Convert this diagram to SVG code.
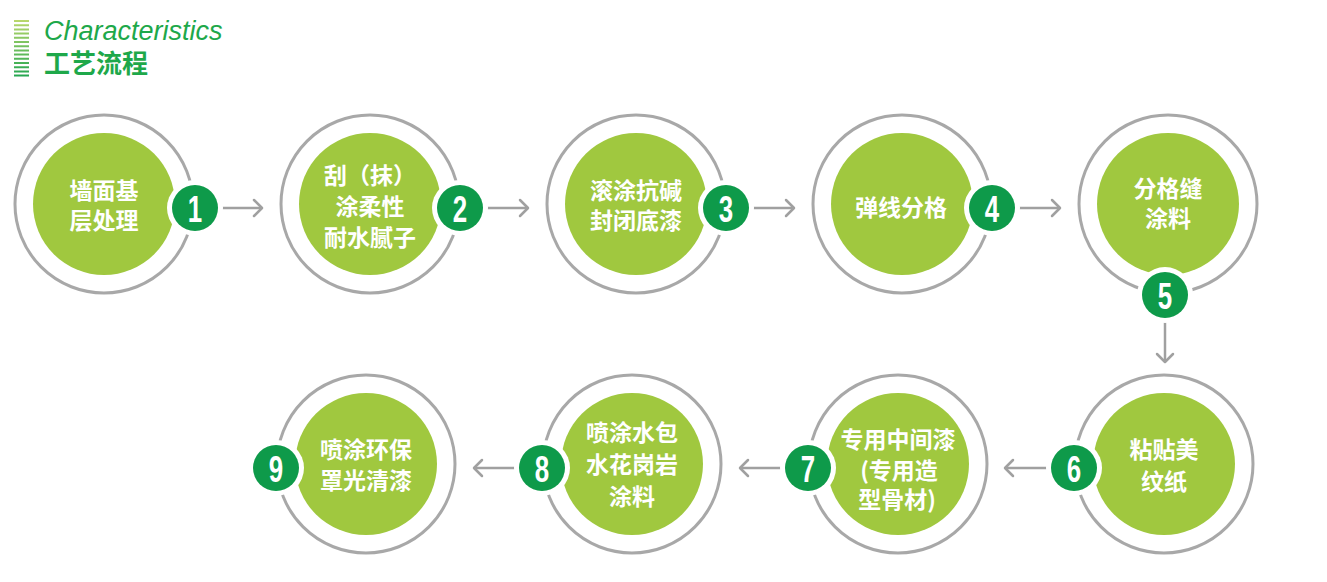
<svg xmlns="http://www.w3.org/2000/svg" width="1327" height="582" viewBox="0 0 1327 582">
  <style>
    .ring{fill:none;stroke:#a8a8a8;stroke-width:3}
    .core{fill:#a0c83f}
    .gap{fill:#ffffff}
    .badge{fill:#0e9a4a}
    .lbl{font-family:"Noto Sans CJK SC","Noto Sans",sans-serif;font-weight:700;font-size:23px;fill:#ffffff;text-anchor:middle}
    .num{font-family:"Liberation Sans",Arial,sans-serif;font-weight:700;font-size:37px;fill:#ffffff;text-anchor:middle}
    .conn{fill:none;stroke:#a0a0a0;stroke-width:2.5}
    .head{fill:none;stroke:#a0a0a0;stroke-width:2.5;stroke-linecap:round;stroke-linejoin:round}
  </style>
  <defs>
    <linearGradient id="stripeGrad" gradientUnits="userSpaceOnUse" x1="0" y1="19" x2="0" y2="77">
      <stop offset="0" stop-color="#bcd86c"/>
      <stop offset="1" stop-color="#22a650"/>
    </linearGradient>
    <marker id="arr" markerUnits="userSpaceOnUse" markerWidth="14" markerHeight="20" refX="11" refY="10" orient="auto" viewBox="0 0 14 20">
      <path d="M3 2 L11 10 L3 18" class="head"/>
    </marker>
  </defs>
  <rect width="1327" height="582" fill="#ffffff"/>

  <g id="header">
    <path d="M14 21H29M14 25.2H29M14 29.4H29M14 33.6H29M14 37.8H29M14 42H29M14 46.2H29M14 50.4H29M14 54.6H29M14 58.8H29M14 63H29M14 67.2H29M14 71.4H29M14 75.6H29" stroke="url(#stripeGrad)" stroke-width="2" fill="none"/>
    <text x="44" y="40" font-family="Liberation Sans, Arial, sans-serif" font-style="italic" font-size="27" fill="#1ea84a">Characteristics</text>
    <text x="44" y="73" font-family="Noto Sans CJK SC, Noto Sans, sans-serif" font-weight="700" font-size="26" fill="#1ea84a">工艺流程</text>
  </g>

  <g id="connectors">
    <path class="conn" d="M218 208 H262" marker-end="url(#arr)"/>
    <path class="conn" d="M483 208 H528" marker-end="url(#arr)"/>
    <path class="conn" d="M749 208 H794" marker-end="url(#arr)"/>
    <path class="conn" d="M1015 208 H1060" marker-end="url(#arr)"/>
    <path class="conn" d="M1165 318 V362" marker-end="url(#arr)"/>
    <path class="conn" d="M1050 468 H1005" marker-end="url(#arr)"/>
    <path class="conn" d="M785 468 H740" marker-end="url(#arr)"/>
    <path class="conn" d="M519 468 H474" marker-end="url(#arr)"/>
  </g>

  <g id="node1">
    <circle class="ring" cx="104" cy="204" r="89"/>
    <circle class="core" cx="104" cy="204" r="71"/>
    <text class="lbl" x="104" y="199">墙面基<tspan x="104" dy="30">层处理</tspan></text>
    <circle class="gap" cx="195" cy="208" r="28"/>
    <circle class="badge" cx="195" cy="208" r="23"/>
    <text class="num" transform="translate(195 221.5) scale(0.7 1)">1</text>
  </g>

  <g id="node2">
    <circle class="ring" cx="370" cy="204" r="89"/>
    <circle class="core" cx="370" cy="204" r="71"/>
    <text class="lbl" x="370" y="184">刮（抹）<tspan x="370" dy="31">涂柔性</tspan><tspan x="370" dy="31">耐水腻子</tspan></text>
    <circle class="gap" cx="460" cy="208" r="28"/>
    <circle class="badge" cx="460" cy="208" r="23"/>
    <text class="num" transform="translate(460 221.5) scale(0.7 1)">2</text>
  </g>

  <g id="node3">
    <circle class="ring" cx="636" cy="204" r="89"/>
    <circle class="core" cx="636" cy="204" r="71"/>
    <text class="lbl" x="636" y="199">滚涂抗碱<tspan x="636" dy="30">封闭底漆</tspan></text>
    <circle class="gap" cx="726" cy="208" r="28"/>
    <circle class="badge" cx="726" cy="208" r="23"/>
    <text class="num" transform="translate(726 221.5) scale(0.7 1)">3</text>
  </g>

  <g id="node4">
    <circle class="ring" cx="902" cy="204" r="89"/>
    <circle class="core" cx="902" cy="204" r="71"/>
    <text class="lbl" x="901" y="216">弹线分格</text>
    <circle class="gap" cx="992" cy="208" r="28"/>
    <circle class="badge" cx="992" cy="208" r="23"/>
    <text class="num" transform="translate(992 221.5) scale(0.7 1)">4</text>
  </g>

  <g id="node5">
    <circle class="ring" cx="1168" cy="204" r="89"/>
    <circle class="core" cx="1168" cy="204" r="71"/>
    <text class="lbl" x="1168" y="197">分格缝<tspan x="1168" dy="30">涂料</tspan></text>
    <circle class="gap" cx="1165" cy="295" r="28"/>
    <circle class="badge" cx="1165" cy="295" r="23"/>
    <text class="num" transform="translate(1165 308.5) scale(0.7 1)">5</text>
  </g>

  <g id="node6">
    <circle class="ring" cx="1164" cy="464" r="89"/>
    <circle class="core" cx="1164" cy="464" r="71"/>
    <text class="lbl" x="1164" y="458">粘贴美<tspan x="1164" dy="32">纹纸</tspan></text>
    <circle class="gap" cx="1074" cy="468" r="28"/>
    <circle class="badge" cx="1074" cy="468" r="23"/>
    <text class="num" transform="translate(1074 481.5) scale(0.7 1)">6</text>
  </g>

  <g id="node7">
    <circle class="ring" cx="898" cy="464" r="89"/>
    <circle class="core" cx="898" cy="464" r="71"/>
    <text class="lbl" x="898" y="448">专用中间漆<tspan x="899" dy="31">(专用造</tspan><tspan x="897" dy="29">型骨材)</tspan></text>
    <circle class="gap" cx="808" cy="468" r="28"/>
    <circle class="badge" cx="808" cy="468" r="23"/>
    <text class="num" transform="translate(808 481.5) scale(0.7 1)">7</text>
  </g>

  <g id="node8">
    <circle class="ring" cx="632" cy="464" r="89"/>
    <circle class="core" cx="632" cy="464" r="71"/>
    <text class="lbl" x="632" y="441">喷涂水包<tspan x="632" dy="32">水花岗岩</tspan><tspan x="632" dy="32">涂料</tspan></text>
    <circle class="gap" cx="542" cy="468" r="28"/>
    <circle class="badge" cx="542" cy="468" r="23"/>
    <text class="num" transform="translate(542 481.5) scale(0.7 1)">8</text>
  </g>

  <g id="node9">
    <circle class="ring" cx="366" cy="464" r="89"/>
    <circle class="core" cx="366" cy="464" r="71"/>
    <text class="lbl" x="366" y="458">喷涂环保<tspan x="366" dy="31">罩光清漆</tspan></text>
    <circle class="gap" cx="276" cy="468" r="28"/>
    <circle class="badge" cx="276" cy="468" r="23"/>
    <text class="num" transform="translate(276 481.5) scale(0.7 1)">9</text>
  </g>
</svg>
